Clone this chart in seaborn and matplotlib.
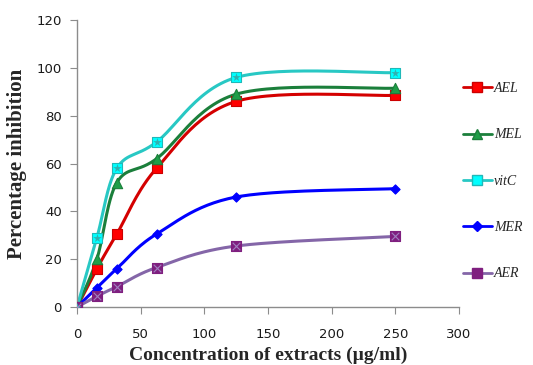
import matplotlib
matplotlib.use("Agg")
import matplotlib.pyplot as plt
import seaborn as sns
import numpy as np
import pandas as pd
from matplotlib.lines import Line2D

# concentration (ug/ml) and percentage inhibition per extract
conc = [0, 15.6, 31.25, 62.5, 125, 250]
ael = [0, 16, 30.5, 58, 86, 88.5]
mel = [0, 20, 52, 62, 89, 91.5]
vitc = [0, 29, 58, 69, 96, 98]
mer = [0, 8, 16, 30.5, 46, 49.5]
aer = [0, 4.5, 8.5, 16.5, 25.5, 29.5]

names = ["AEL", "MEL", "vitC", "MER", "AER"]
series = [ael, mel, vitc, mer, aer]

sns.set_style("white")
plt.rcParams['font.family'] = ['DejaVu Sans']


def smooth(x, y, n=30):
    # excel-style smoothed line (catmull-rom between the measured points)
    x = np.asarray(x, float)
    y = np.asarray(y, float)
    px = np.concatenate([[x[0]], x, [x[-1]]])
    py = np.concatenate([[y[0]], y, [y[-1]]])
    xs, ys = [], []
    for i in range(1, len(px) - 2):
        p0, p1, p2, p3 = [np.array([px[j], py[j]]) for j in (i - 1, i, i + 1, i + 2)]
        c1 = p1 + (p2 - p0) / 6
        c2 = p2 - (p3 - p1) / 6
        t = np.linspace(0, 1, n)[:, None]
        b = (1 - t) ** 3 * p1 + 3 * (1 - t) ** 2 * t * c1 + 3 * (1 - t) * t ** 2 * c2 + t ** 3 * p2
        xs.extend(b[:, 0])
        ys.extend(b[:, 1])
    return pd.DataFrame({"x": xs, "y": ys})


styles = {
    "AEL": dict(line="#d40000", face="#ff0000", edge="#cc0000", marker="s", size=55),
    "MEL": dict(line="#1b7f3b", face="#1f9e48", edge="#1b7f3b", marker="^", size=55),
    "vitC": dict(line="#28c8c4", face="#00ffff", edge="#20b8b8", marker="s", size=50),
    "MER": dict(line="#0000ff", face="#0000ff", edge="#0000ff", marker="D", size=22),
    "AER": dict(line="#8466a8", face="#7f1f7f", edge="#7f1f7f", marker="s", size=55),
}

fig = plt.figure(figsize=(5.33, 3.65), dpi=100)
ax = fig.add_axes([0.1445, 0.159, 0.7165, 0.786])

handles = []
for name, vals in zip(names, series):
    st = styles[name]
    curve = smooth(conc, vals)
    sns.lineplot(data=curve, x="x", y="y", sort=False, color=st["line"], linewidth=2.2, ax=ax)
    pts = pd.DataFrame({"x": conc, "y": vals})
    sns.scatterplot(data=pts, x="x", y="y", marker=st["marker"], s=st["size"],
                    color=st["face"], edgecolor=st["edge"], linewidth=0.8, ax=ax, zorder=5)
    if name == "vitC":
        sns.scatterplot(data=pts, x="x", y="y", marker="*", s=40, color="#30b0b0",
                        linewidth=0, ax=ax, zorder=6)
    if name == "AER":
        sns.scatterplot(data=pts, x="x", y="y", marker="x", s=30, color="#a080c0",
                        linewidth=0.8, ax=ax, zorder=6)
    handles.append(Line2D([0], [0], color=st["line"], lw=2, marker=st["marker"],
                          markersize=7 if st["marker"] != "D" else 5,
                          markerfacecolor=st["face"], markeredgecolor=st["edge"]))

ax.set_xlim(0, 300)
ax.set_ylim(0, 120)
ax.set_xticks(range(0, 301, 50))
ax.set_yticks(range(0, 121, 20))
for s in ["top", "right"]:
    ax.spines[s].set_visible(False)
for s in ["left", "bottom"]:
    ax.spines[s].set_color("#8c8c8c")
    ax.spines[s].set_linewidth(1)
ax.tick_params(axis="both", which="both", direction="out", length=5, color="#8c8c8c",
               labelsize=9.5, labelcolor="#1a1a1a", bottom=True, left=True)
ax.tick_params(axis="x", pad=10)
ax.tick_params(axis="y", pad=6)
ax.set_xlabel("Concentration of extracts (\u00b5g/ml)", fontsize=14, fontweight="bold",
              family=["Liberation Serif", "DejaVu Serif"], labelpad=4)
ax.set_ylabel("Percentage inhibition", fontsize=15, fontweight="bold",
              family="Liberation Serif", labelpad=7)

fig.legend(handles, names, loc="upper left", bbox_to_anchor=(0.868, 0.775), frameon=False,
           handlelength=2.1, handletextpad=0.15, labelspacing=2.4, borderaxespad=0,
           borderpad=0, prop={"family": "Liberation Serif", "style": "italic", "size": 10})

fig.savefig("out.png", dpi=100)
